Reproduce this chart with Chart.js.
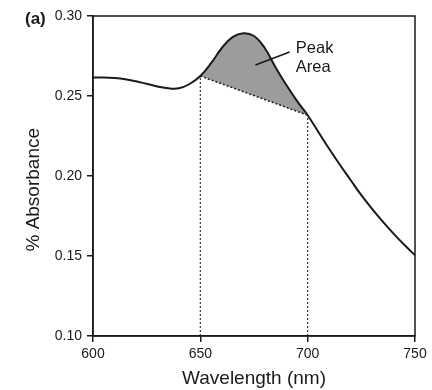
<!DOCTYPE html>
<html><head><meta charset="utf-8">
<script src="https://cdn.jsdelivr.net/npm/chart.js@4"></script>
<style>html,body{margin:0;padding:0;background:#fff;}</style>
</head><body>
<canvas id="c" width="432" height="390"></canvas>
<script>
const wavelengths = [600,605,610,615,620,625,630,635,640,645,650,655,660,665,670,675,680,685,690,695,700,705,710,715,720,725,730,735,740,745,750];
const absorbance  = [0.2615,0.2615,0.2612,0.2605,0.2592,0.2576,0.2560,0.2548,0.2548,0.2575,0.2625,0.2705,0.2800,0.2868,0.2892,0.2875,0.2800,0.2680,0.2570,0.2470,0.2380,0.2275,0.2170,0.2070,0.1975,0.1880,0.1795,0.1715,0.1640,0.1570,0.1505];
const peakBounds = [650, 700];
const xTicks = [600, 650, 700, 750];
const yTicks = [0.10, 0.15, 0.20, 0.25, 0.30];
const panelLabel = '(a)';
const peakLabel = ['Peak', 'Area'];
const xTitle = 'Wavelength (nm)';
const yTitle = '% Absorbance';
// annotation anchors in data units: leader line start/end, text anchor
const leaderFrom = {x: 675.7, y: 0.2694};
const leaderTo = {x: 691.6, y: 0.2775};
const labelAt = {x: 694.5, y: 0.2797};
const yTitleAt = 0.1914;

const FONT = "'Liberation Sans', Arial, sans-serif";
const curvePts = wavelengths.map((x, i) => ({x, y: absorbance[i]}));
const peakPts = curvePts.filter(p => p.x >= peakBounds[0] && p.x <= peakBounds[1]);
const basePts = peakBounds.map(b => ({x: b, y: absorbance[wavelengths.indexOf(b)]}));
const yMin = yTicks[0], yMax = yTicks[yTicks.length - 1];

const boxPlugin = {
  id: 'box',
  afterDatasetsDraw(chart) {
    const {ctx, chartArea: a, scales} = chart;
    const xs = scales.x, ys = scales.y;
    ctx.save();
    ctx.strokeStyle = '#1a1a1a';
    ctx.lineWidth = 1.5;
    ctx.strokeRect(a.left, a.top, a.right - a.left, a.bottom - a.top);
    ctx.beginPath();
    ctx.moveTo(xs.getPixelForValue(leaderFrom.x), ys.getPixelForValue(leaderFrom.y));
    ctx.lineTo(xs.getPixelForValue(leaderTo.x), ys.getPixelForValue(leaderTo.y));
    ctx.stroke();
    ctx.fillStyle = '#1a1a1a';
    ctx.font = '16.5px ' + FONT;
    ctx.textAlign = 'left';
    ctx.textBaseline = 'middle';
    const lx = xs.getPixelForValue(labelAt.x), ly = ys.getPixelForValue(labelAt.y);
    peakLabel.forEach((t, i) => ctx.fillText(t, lx, ly + i * 19));
    ctx.font = 'bold 17px ' + FONT;
    ctx.textBaseline = 'alphabetic';
    ctx.fillText(panelLabel, 25, 24);
    // y axis title
    ctx.save();
    ctx.translate(34, ys.getPixelForValue(yTitleAt));
    ctx.rotate(-Math.PI / 2);
    ctx.font = '19px ' + FONT;
    ctx.textAlign = 'center';
    ctx.textBaseline = 'middle';
    ctx.fillText(yTitle, 0, 0);
    ctx.restore();
    ctx.restore();
  }
};

new Chart(document.getElementById('c'), {
  type: 'line',
  data: {
    datasets: [
      {data: curvePts, borderColor: '#1a1a1a', borderWidth: 2, pointRadius: 0, tension: 0.4, fill: false, order: 0},
      {data: peakPts, borderWidth: 0, borderColor: 'rgba(0,0,0,0)', pointRadius: 0, tension: 0.4, fill: {target: 2}, backgroundColor: '#9c9c9c', order: 3},
      {data: basePts, borderColor: '#1a1a1a', borderWidth: 1.5, borderDash: [2, 2], pointRadius: 0, fill: false, order: 1},
      {data: [{x: peakBounds[0], y: yMin}, basePts[0]], borderColor: '#333', borderWidth: 1.2, borderDash: [2, 2], pointRadius: 0, fill: false, order: 2},
      {data: [{x: peakBounds[1], y: yMin}, basePts[1]], borderColor: '#333', borderWidth: 1.2, borderDash: [2, 2], pointRadius: 0, fill: false, order: 2}
    ]
  },
  options: {
    responsive: false,
    animation: false,
    devicePixelRatio: 1,
    layout: {padding: {top: 16, right: 17, left: 0, bottom: 0}},
    plugins: {legend: {display: false}, tooltip: {enabled: false}},
    scales: {
      x: {
        type: 'linear', min: xTicks[0], max: xTicks[xTicks.length - 1],
        afterBuildTicks: s => { s.ticks = xTicks.map(v => ({value: v})); },
        afterFit: s => { s.height = 54; },
        grid: {drawOnChartArea: false, drawTicks: true, tickLength: 6, color: '#1a1a1a', lineWidth: 1.5},
        border: {display: true, color: '#1a1a1a', width: 1.5},
        ticks: {color: '#1a1a1a', font: {family: FONT, size: 14}, padding: 4, maxRotation: 0, callback: v => String(v)},
        title: {display: true, text: xTitle, color: '#1a1a1a', font: {family: FONT, size: 19, lineHeight: 1.2}, padding: {top: 0, bottom: 0}}
      },
      y: {
        type: 'linear', min: yMin, max: yMax,
        afterBuildTicks: s => { s.ticks = yTicks.map(v => ({value: v})); },
        afterFit: s => { s.width = 93; },
        grid: {drawOnChartArea: false, drawTicks: true, tickLength: 6, color: '#1a1a1a', lineWidth: 1.5},
        border: {display: true, color: '#1a1a1a', width: 1.5},
        ticks: {color: '#1a1a1a', font: {family: FONT, size: 14}, padding: 5, callback: v => Number(v).toFixed(2)},
        title: {display: false}
      }
    }
  },
  plugins: [boxPlugin]
});
</script>
</body></html>
